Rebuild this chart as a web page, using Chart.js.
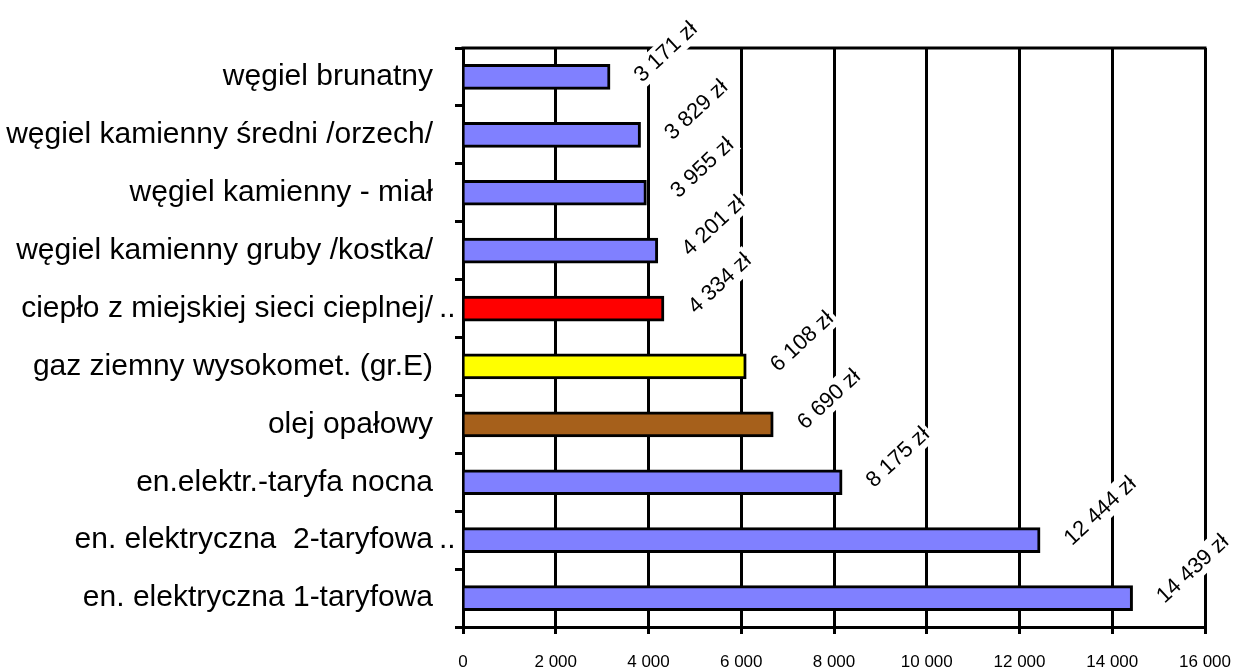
<!DOCTYPE html>
<html><head><meta charset="utf-8">
<script src="https://cdn.jsdelivr.net/npm/chart.js@4/dist/chart.umd.min.js"></script>
<style>html,body{margin:0;padding:0;background:#fff;}canvas{display:block;}</style>
</head><body>
<canvas id="c" width="1236" height="670"></canvas>
<script>
const categories = [
  "węgiel brunatny",
  "węgiel kamienny średni /orzech/",
  "węgiel kamienny - miał",
  "węgiel kamienny gruby /kostka/",
  "ciepło z miejskiej sieci cieplnej/ ..",
  "gaz ziemny wysokomet. (gr.E)",
  "olej opałowy",
  "en.elektr.-taryfa nocna",
  "en. elektryczna  2-taryfowa..",
  "en. elektryczna 1-taryfowa"
];
const costs = [3171, 3829, 3955, 4201, 4334, 6108, 6690, 8175, 12444, 14439];
const xTickLabels = ["0", "2 000", "4 000", "6 000", "8 000", "10 000", "12 000", "14 000", "16 000"];
const barColors = ["#8080FF","#8080FF","#8080FF","#8080FF","#FF0000","#FFFF00","#A6601B","#8080FF","#8080FF","#8080FF"];

const FONT = '"Liberation Sans", Arial, sans-serif';
const fmt = v => String(v).replace(/\B(?=(\d{3})+(?!\d))/g, ' ');
const Y_TICK_LEN = 8, Y_PAD = 22;

const extrasPlugin = {
  id: 'extras',
  afterDraw(chart) {
    const ctx = chart.ctx, area = chart.chartArea;
    ctx.save();
    ctx.strokeStyle = '#000'; ctx.lineWidth = 3;
    ctx.beginPath(); ctx.moveTo(area.left - 1.5, area.top); ctx.lineTo(area.right + 1.5, area.top); ctx.stroke();
    // ellipsis for truncated category labels
    const ys = chart.scales.y;
    ctx.font = '30px ' + FONT; ctx.fillStyle = '#000';
    ctx.textAlign = 'left'; ctx.textBaseline = 'middle';
    categories.forEach((c, i) => {
      if (c.endsWith('..')) {
        ctx.fillText('..', ys.right - Y_TICK_LEN - Y_PAD + 6, ys.getPixelForTick(i));
      }
    });
    // rotated value labels
    const meta = chart.getDatasetMeta(0);
    ctx.font = '22px ' + FONT;
    meta.data.forEach((bar, i) => {
      const txt = fmt(costs[i]) + ' zł';
      const w = ctx.measureText(txt).width;
      ctx.save();
      ctx.translate(bar.x + 32, bar.y + 6);
      ctx.rotate(-43 * Math.PI / 180);
      ctx.fillStyle = '#fff';
      ctx.fillRect(-3, -19, w + 6, 25);
      ctx.fillStyle = '#000';
      ctx.textAlign = 'left'; ctx.textBaseline = 'alphabetic';
      ctx.fillText(txt, 0, 0);
      ctx.restore();
    });
    ctx.restore();
  }
};

new Chart(document.getElementById('c'), {
  type: 'bar',
  data: {
    labels: categories,
    datasets: [{
      data: costs,
      backgroundColor: barColors,
      borderColor: '#000',
      borderWidth: 3,
      borderSkipped: 'start',
      barThickness: 25
    }]
  },
  options: {
    indexAxis: 'y',
    responsive: false,
    animation: false,
    layout: { padding: { top: 48, right: 31, left: 0, bottom: 0 } },
    plugins: { legend: { display: false }, tooltip: { enabled: false } },
    scales: {
      x: {
        min: 0, max: 16000,
        ticks: {
          stepSize: 2000, color: '#000', padding: 18, maxRotation: 0,
          font: { family: FONT, size: 17 },
          callback: (v) => xTickLabels[Math.round(v / 2000)]
        },
        grid: { color: '#000', lineWidth: 3, tickLength: 7, drawOnChartArea: true },
        border: { display: true, color: '#000', width: 3 },
        afterFit: (s) => { s.height = 43; s.paddingRight = 0; s.paddingLeft = 0; }
      },
      y: {
        ticks: {
          color: '#000', padding: Y_PAD,
          font: { family: FONT, size: 30 },
          callback: function(v, i) { return categories[i].replace(/\s*\.\.$/, ''); }
        },
        grid: { color: '#000', lineWidth: 3, tickLength: Y_TICK_LEN, drawOnChartArea: false, offset: true },
        border: { display: true, color: '#000', width: 3 },
        afterFit: (s) => { s.width = 463; s.paddingTop = 0; s.paddingBottom = 0; }
      }
    }
  },
  plugins: [extrasPlugin]
});
</script>
</body></html>
